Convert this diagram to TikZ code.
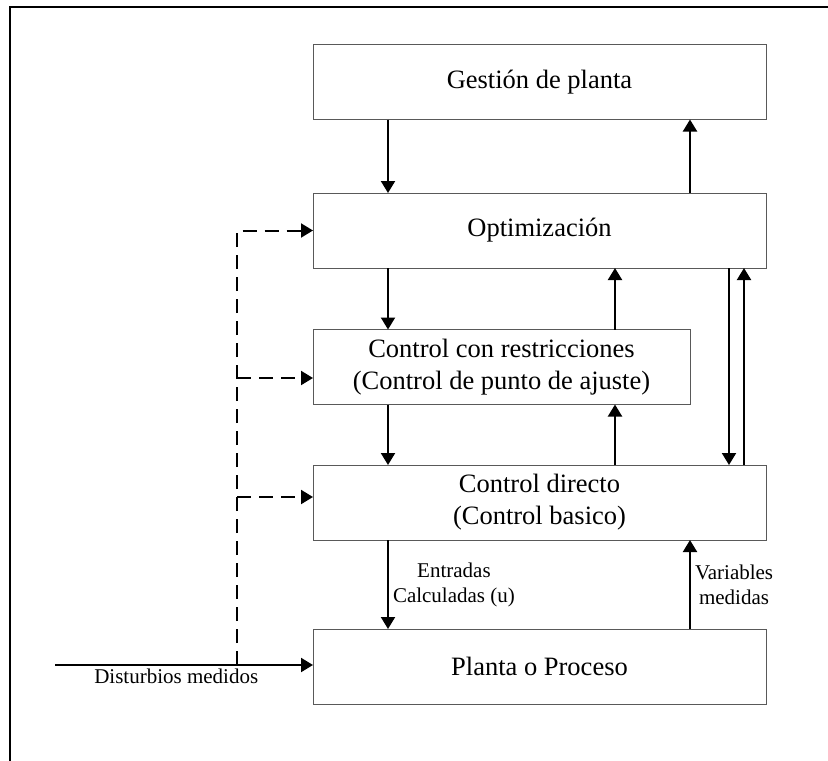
\documentclass[tikz,border=0pt]{standalone}
\usepackage{fontspec}
\setmainfont{Liberation Serif}
\usetikzlibrary{arrows.meta,positioning}

\begin{document}
\begin{tikzpicture}[
  x=1pt,y=-1pt,
  level/.style={draw=black!65,line width=1pt,minimum width=453pt,minimum height=75pt,
    inner sep=0pt,outer sep=0pt,align=center,font=\fontsize{26.5pt}{32pt}\selectfont},
  flow/.style={line width=2pt,-{Triangle[length=12pt,width=14pt]}},
  dist/.style={flow,dash pattern=on 14pt off 8pt},
  tag/.style={align=center,inner sep=4pt,font=\fontsize{21pt}{25pt}\selectfont}
]
  \useasboundingbox (0,0) rectangle (828,761);
  \draw[line width=2pt] (10,761) -- (10,7) -- (828,7);

  \node[level] (gestion) at (539.5,82) {Gestión de planta};
  \node[level,below=73.5pt of gestion] (optim) {Optimización};
  \node[level,minimum width=377pt,below right=61.5pt and 0pt of optim.south west] (conres)
    {Control con restricciones\\(Control de punto de ajuste)};
  \node[level,below right=60.5pt and 0pt of conres.south west] (directo)
    {Control directo\\(Control basico)};
  \node[level,below=89pt of directo] (planta) {Planta o Proceso};

  % downward path
  \draw[flow] ([xshift=75pt]gestion.south west) -- ([xshift=75pt]optim.north west);
  \draw[flow] ([xshift=75pt]optim.south west) -- ([xshift=75pt]conres.north west);
  \draw[flow] ([xshift=75pt]conres.south west) -- ([xshift=75pt]directo.north west);
  \draw[flow] ([xshift=75pt]directo.south west) -- node[right,tag] {Entradas\\Calculadas (u)}
    ([xshift=75pt]planta.north west);
  \draw[flow] ([xshift=-37pt]optim.south east) -- ([xshift=-37pt]directo.north east);

  % upward path
  \coordinate (cup) at ([xshift=-75pt]conres.north east);
  \coordinate (cdn) at ([xshift=-75pt]conres.south east);
  \draw[flow] ([xshift=-76pt]optim.north east) -- ([xshift=-76pt]gestion.south east);
  \draw[flow] (cup) -- (cup |- optim.south);
  \draw[flow] (cdn |- directo.north) -- (cdn);
  \draw[flow] ([xshift=-76pt]planta.north east) -- node[right,tag] {Variables\\medidas}
    ([xshift=-76pt]directo.south east);
  \draw[flow] ([xshift=-22pt]directo.north east) -- ([xshift=-22pt]optim.south east);

  % disturbances
  \coordinate (src) at (55,665);
  \coordinate (tap) at (237,665);
  \coordinate (oin) at (optim.west);
  \coordinate (cin) at ([yshift=-11pt]conres.west);
  \coordinate (din) at ([yshift=5.5pt]directo.west);
  \draw[flow] (src) -- node[below,tag,pos=0.47,inner sep=3pt] {Disturbios medidos} (planta.west |- src);
  \draw[dist] (tap) |- (oin);
  \draw[dist] (tap |- cin) -- (cin);
  \draw[dist] (tap |- din) -- (din);
\end{tikzpicture}
\end{document}
